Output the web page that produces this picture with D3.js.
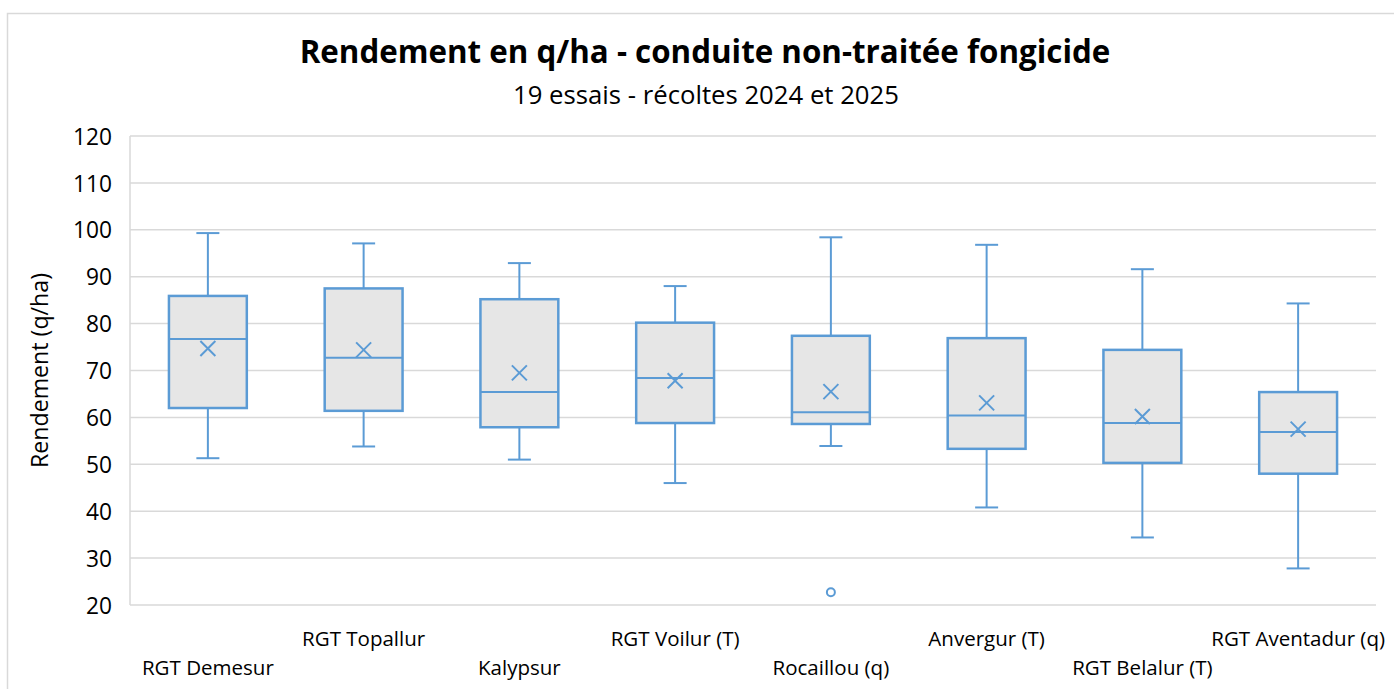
<!DOCTYPE html>
<html>
<head>
<meta charset="utf-8">
<script src="https://cdn.jsdelivr.net/npm/d3@7"></script>
<style>
  html, body { margin: 0; padding: 0; background: #fff; }
  svg { display: block; font-family: "Open Sans", "Noto Sans", sans-serif; }
</style>
</head>
<body>
<svg id="chart" width="1394" height="689"></svg>
<script>
// ---- Data ----
const categories = ["RGT Demesur", "RGT Topallur", "Kalypsur", "RGT Voilur (T)",
                    "Rocaillou (q)", "Anvergur (T)", "RGT Belalur (T)", "RGT Aventadur (q)"];
const whiskerLow  = [51.3, 53.8, 51.0, 46.0, 53.9, 40.8, 34.4, 27.8];
const q1Values    = [62.0, 61.4, 57.9, 58.8, 58.6, 53.3, 50.3, 48.0];
const medians     = [76.7, 72.7, 65.4, 68.4, 61.1, 60.4, 58.8, 56.9];
const q3Values    = [85.9, 87.5, 85.2, 80.2, 77.4, 76.9, 74.4, 65.4];
const whiskerHigh = [99.3, 97.1, 92.9, 88.0, 98.4, 96.8, 91.6, 84.3];
const means       = [74.7, 74.4, 69.5, 67.8, 65.5, 63.1, 60.2, 57.5];
const outliers    = [[], [], [], [], [22.7], [], [], []];
const yTicks      = [20, 30, 40, 50, 60, 70, 80, 90, 100, 110, 120];
const titleText    = "Rendement en q/ha - conduite non-traitée fongicide";
const subtitleText = "19 essais - récoltes 2024 et 2025";
const yAxisTitle   = "Rendement (q/ha)";

// ---- Layout ----
const svg = d3.select("#chart");
const plot = { left: 130, right: 1376, top: 136, bottom: 605 };
const blue = "#5b9bd5", grid = "#d9d9d9", boxFill = "#e6e6e6";

const x = d3.scaleBand().domain(categories).range([plot.left, plot.right]).padding(0);
const y = d3.scaleLinear().domain([20, 120]).range([plot.bottom, plot.top]);

function fitFont(sel, targetW, baseSize) {
  sel.attr("font-size", baseSize);
  const w = sel.node().getComputedTextLength();
  const fs = baseSize * targetW / w;
  sel.attr("font-size", fs);
  return fs;
}

// chart area border (top & left visible)
svg.append("rect").attr("x", 7.5).attr("y", 13.5).attr("width", 1400).attr("height", 700)
  .attr("fill", "none").attr("stroke", grid).attr("stroke-width", 1.5);

// gridlines
svg.append("g").selectAll("line").data(yTicks).join("line")
  .attr("x1", plot.left).attr("x2", plot.right)
  .attr("y1", d => y(d)).attr("y2", d => y(d))
  .attr("stroke", grid).attr("stroke-width", 1.5);
// left axis line
svg.append("line").attr("x1", plot.left).attr("x2", plot.left)
  .attr("y1", plot.top).attr("y2", plot.bottom)
  .attr("stroke", grid).attr("stroke-width", 1.5);

// y axis tick labels via d3 axis
const yAxis = svg.append("g").attr("transform", `translate(${plot.left - 18},0)`)
  .call(d3.axisLeft(y).tickValues(yTicks).tickSize(0).tickPadding(0));
yAxis.select(".domain").remove();
yAxis.selectAll("text").attr("fill", "#000").attr("font-family", '"Open Sans", sans-serif');
const tickFs = fitFont(yAxis.selectAll("text").filter(d => d === 120), 39, 22);
yAxis.selectAll("text").attr("font-size", tickFs).attr("dy", "0.36em");

// y axis title
const yt = svg.append("text").attr("transform", `translate(48,${(plot.top + plot.bottom) / 2}) rotate(-90)`)
  .attr("text-anchor", "middle").attr("fill", "#000").text(yAxisTitle);
fitFont(yt, 195, 20);

// x labels (staggered)
const xl = svg.append("g").selectAll("text").data(categories).join("text")
  .attr("x", d => x(d) + x.bandwidth() / 2)
  .attr("y", (d, i) => i % 2 === 0 ? 675 : 646)
  .attr("text-anchor", "middle").attr("fill", "#000").text(d => d);
const xFs = fitFont(xl.filter((d, i) => i === 0), 132, 18);
xl.attr("font-size", xFs);

// boxes
const bw = x.bandwidth() * 0.5;
const capW = 23;
const g = svg.append("g").selectAll("g").data(categories).join("g")
  .attr("transform", d => `translate(${x(d) + x.bandwidth() / 2},0)`);

// whiskers
g.append("line").attr("x1", 0).attr("x2", 0)
  .attr("y1", (d, i) => y(whiskerHigh[i])).attr("y2", (d, i) => y(q3Values[i]))
  .attr("stroke", blue).attr("stroke-width", 2);
g.append("line").attr("x1", 0).attr("x2", 0)
  .attr("y1", (d, i) => y(q1Values[i])).attr("y2", (d, i) => y(whiskerLow[i]))
  .attr("stroke", blue).attr("stroke-width", 2);
g.append("line").attr("x1", -capW / 2).attr("x2", capW / 2)
  .attr("y1", (d, i) => y(whiskerHigh[i])).attr("y2", (d, i) => y(whiskerHigh[i]))
  .attr("stroke", blue).attr("stroke-width", 2);
g.append("line").attr("x1", -capW / 2).attr("x2", capW / 2)
  .attr("y1", (d, i) => y(whiskerLow[i])).attr("y2", (d, i) => y(whiskerLow[i]))
  .attr("stroke", blue).attr("stroke-width", 2);

// box
g.append("rect").attr("x", -bw / 2).attr("width", bw)
  .attr("y", (d, i) => y(q3Values[i]))
  .attr("height", (d, i) => y(q1Values[i]) - y(q3Values[i]))
  .attr("fill", boxFill).attr("stroke", blue).attr("stroke-width", 2.5);
// median
g.append("line").attr("x1", -bw / 2).attr("x2", bw / 2)
  .attr("y1", (d, i) => y(medians[i])).attr("y2", (d, i) => y(medians[i]))
  .attr("stroke", blue).attr("stroke-width", 2);
// mean X
const mx = 7.5;
g.append("path")
  .attr("d", (d, i) => {
    const cy = y(means[i]);
    return `M${-mx},${cy - mx}L${mx},${cy + mx}M${-mx},${cy + mx}L${mx},${cy - mx}`;
  })
  .attr("stroke", blue).attr("stroke-width", 2).attr("fill", "none");
// outliers
g.each(function(d, i) {
  d3.select(this).selectAll("circle").data(outliers[i]).join("circle")
    .attr("cx", 0).attr("cy", v => y(v)).attr("r", 4)
    .attr("fill", "#fff").attr("stroke", blue).attr("stroke-width", 2);
});

// titles
const t = svg.append("text").attr("x", 705).attr("y", 63).attr("text-anchor", "middle")
  .attr("font-weight", "bold").attr("fill", "#000").text(titleText);
fitFont(t, 811, 28);
const st = svg.append("text").attr("x", 706).attr("y", 104).attr("text-anchor", "middle")
  .attr("fill", "#000").text(subtitleText);
fitFont(st, 386, 20);
</script>
</body>
</html>
